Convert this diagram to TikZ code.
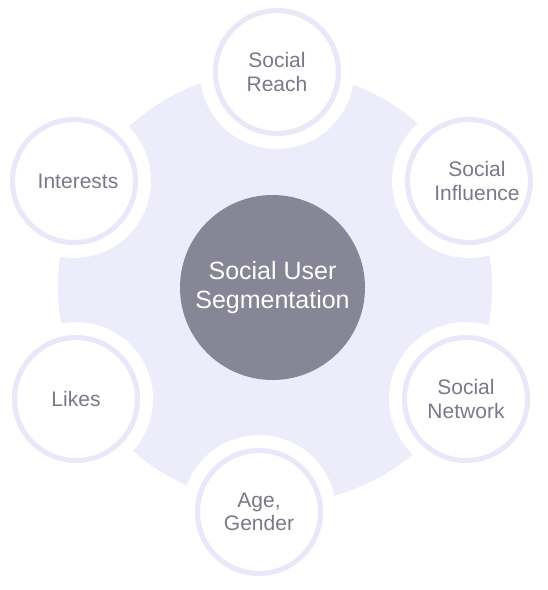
\documentclass[tikz,border=0pt]{standalone}
\usepackage{fontspec}
\setmainfont{Liberation Sans}
\usepackage{xcolor}
\usepackage{tikz}
\usetikzlibrary{positioning}
\definecolor{lavender}{RGB}{236,236,250}
\definecolor{ringblue}{RGB}{232,232,248}
\definecolor{hubgray}{RGB}{135,134,150}
\definecolor{labelgray}{RGB}{122,121,138}
\tikzset{
  hub/.style={circle, fill=hubgray, minimum size=185pt, inner sep=0pt,
              text=white, align=center, font=\fontsize{25}{28.5}\selectfont},
  spoke/.style={circle, fill=white, draw=ringblue, line width=5pt,
                minimum size=123pt, inner sep=0pt,
                preaction={draw=white, line width=31pt},
                text=labelgray, align=center,
                font=\fontsize{21}{23.5}\selectfont}
}

\begin{document}
\begin{tikzpicture}[x=1pt, y=-1pt]
  \useasboundingbox (0,0) rectangle (548,590);

  % lavender backdrop
  \fill[lavender] (275,287) circle[radius=217pt];

  % outer segments
  \node[spoke] (reach)     at (277,72)  {Social\\Reach};
  \node[spoke] (influence) at (469,181) {\hspace*{16pt}Social\\\hspace*{16pt}Influence};
  \node[spoke] (network)   at (466,399) {Social\\Network};
  \node[spoke] (agegender) at (259,512) {Age,\\Gender};
  \node[spoke] (likes)     at (76,399)  {Likes};
  \node[spoke] (interests) at (74,181)  {\hspace*{8pt}Interests};

  % center
  \node[hub] (segment) at (272.5,287.5) {Social User\\Segmentation};

\end{tikzpicture}
\end{document}
